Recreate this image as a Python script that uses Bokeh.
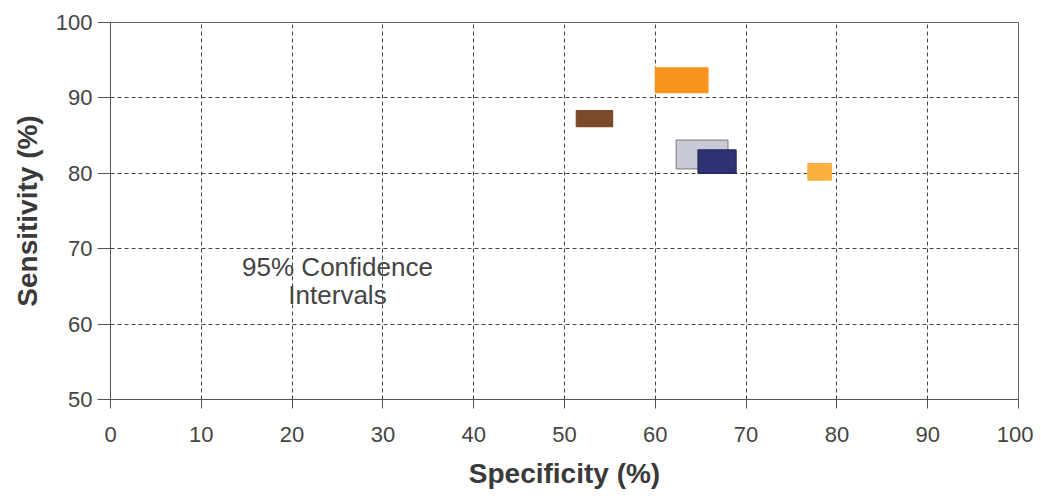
from bokeh.plotting import figure
from bokeh.models import Range1d, FixedTicker
from bokeh.core.properties import value
from bokeh.embed import file_html
from bokeh.resources import INLINE

# 95% confidence interval boxes (specificity range, sensitivity range)
spec_low = [60.0, 51.3, 62.3, 64.7, 76.8]
spec_high = [65.8, 55.3, 68.0, 68.9, 79.4]
sens_low = [90.7, 86.2, 80.6, 80.0, 79.1]
sens_high = [94.0, 88.3, 84.4, 83.1, 81.3]
fills = ["#F7941D", "#7B4A2B", "#C9CAD8", "#2E3272", "#FBB040"]
lines = ["#F7941D", "#7B4A2B", "#8A8A8A", "#23265A", "#FBB040"]

x_ticks = [0, 10, 20, 30, 40, 50, 60, 70, 80, 90, 100]
y_ticks = [50, 60, 70, 80, 90, 100]
note_lines = ["95% Confidence", "Intervals"]

FONT = "Liberation Sans"

p = figure(width=1033, height=495, output_backend="svg", toolbar_location=None,
           x_range=Range1d(0, 100), y_range=Range1d(50, 100),
           min_border_left=110, min_border_right=15, min_border_top=22, min_border_bottom=96)

p.background_fill_color = "white"
p.border_fill_color = "white"
p.outline_line_color = "#666666"
p.outline_line_width = 1

for ax in (p.xaxis, p.yaxis):
    ax.axis_line_color = "#555555"
    ax.major_tick_line_color = "#555555"
    ax.minor_tick_line_color = None
    ax.major_tick_in = 0
    ax.major_label_text_font = FONT
    ax.major_label_text_font_size = "22px"
    ax.major_label_text_color = "#444444"
    ax.axis_label_text_font = FONT
    ax.axis_label_text_font_size = "28px"
    ax.axis_label_text_font_style = "bold"
    ax.axis_label_text_color = "#3a3a3a"

p.xaxis.ticker = FixedTicker(ticks=x_ticks)
p.yaxis.ticker = FixedTicker(ticks=y_ticks)
p.xaxis.major_tick_out = 9
p.yaxis.major_tick_out = 13
p.xaxis.major_label_standoff = 18
p.yaxis.major_label_standoff = 5
p.xaxis.axis_label = "Specificity (%)"
p.yaxis.axis_label = "Sensitivity (%)"
p.xaxis.axis_label_standoff = 13
p.yaxis.axis_label_standoff = 10

for g in (p.xgrid, p.ygrid):
    g.grid_line_color = "#444444"
    g.grid_line_dash = "4 3"
    g.grid_line_width = 1

p.quad(left=spec_low, right=spec_high, bottom=sens_low, top=sens_high,
       fill_color=fills, line_color=lines, line_width=1.2)

p.text(x=[25.0, 25.0], y=[67.6, 63.8], text=note_lines,
       text_font=value(FONT), text_font_size="26px", text_color="#444444",
       text_align="center", text_baseline="middle")

open("out.html", "w").write(file_html(p, INLINE))
